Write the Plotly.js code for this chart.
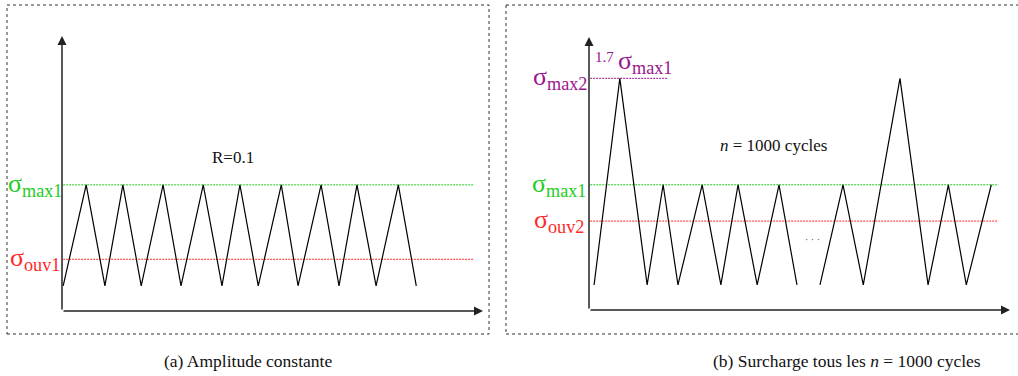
<!DOCTYPE html>
<html>
<head>
<meta charset="utf-8">
<script src="https://cdn.plot.ly/plotly-3.0.1.min.js"></script>
<style>html,body{margin:0;padding:0;background:#fff}#chart{width:1018px;height:376px}</style>
</head>
<body>
<div id="chart"></div>
<script>
// ---- data (stress in units of sigma_max1, time in cycle-like units) ----
const sigmaMax1 = 1.0;
const sigmaOuv1 = 0.41;
const sigmaOuv2 = 0.71;
const sigmaMax2 = 1.85;
const sigmaMin = 0.2;

// (a) constant amplitude
const timeA = [0.03, 0.62, 1.10, 1.56, 2.03, 2.59, 3.05, 3.62, 4.10, 4.56, 5.03, 5.62, 6.05, 6.64, 7.10, 7.56, 8.05, 8.62, 9.08];
const stressA = [0.2, 1.0, 0.2, 1.0, 0.2, 1.0, 0.2, 1.0, 0.2, 1.0, 0.2, 1.0, 0.2, 1.0, 0.2, 1.0, 0.2, 1.0, 0.2];

// (b) overload every n cycles (gap = "...")
const timeB = [0.13, 0.79, 1.49, 1.90, 2.28, 2.90, 3.38, 3.82, 4.31, 4.87, 5.33, null, 5.92, 6.51, 7.03, 7.97, 8.69, 9.21, 9.67, 10.31];
const stressB = [0.2, 1.85, 0.2, 1.0, 0.2, 1.0, 0.2, 1.0, 0.2, 1.0, 0.2, null, 0.2, 1.0, 0.2, 1.85, 0.2, 1.0, 0.2, 1.0];

const levelLineA = [0.03, 10.54];
const levelLineB = [0.03, 10.49];
const levelLineMax2 = [0.03, 2.03];

const captionA = "(a) Amplitude constante";
const captionB = "(b) Surcharge tous les <i>n</i> = 1000 cycles";
const noteA = "R=0.1";
const noteB = "<i>n</i> = 1000 cycles";

const GREEN = "#22cc22", RED = "#ff2a2a", PURPLE = "#99168f";
const FONT = "Liberation Serif, DejaVu Serif, Times New Roman, Times, serif";
const XMAX = 10.79, YMAX = 2.18;

function hline(xs, y, color, xa, ya) {
  return {x: xs, y: [y, y], xaxis: xa, yaxis: ya, mode: "lines", hoverinfo: "skip",
          line: {color: color, width: 1, dash: "2px,1px"}};
}

const traces = [
  hline(levelLineA, sigmaMax1, GREEN, "x", "y"),
  hline(levelLineA, sigmaOuv1, RED, "x", "y"),
  {x: timeA, y: stressA, xaxis: "x", yaxis: "y", mode: "lines", line: {color: "#000", width: 1.2}},
  hline(levelLineMax2, sigmaMax2, PURPLE, "x2", "y2"),
  hline(levelLineB, sigmaMax1, GREEN, "x2", "y2"),
  hline(levelLineB, sigmaOuv2, RED, "x2", "y2"),
  {x: timeB, y: stressB, xaxis: "x2", yaxis: "y2", mode: "lines", connectgaps: false, line: {color: "#000", width: 1.2}}
];

const axX = {range: [0, XMAX], showgrid: false, zeroline: false, showline: false, showticklabels: false, ticks: "", fixedrange: true};
const axY = {range: [0, YMAX], showgrid: false, zeroline: false, showline: false, showticklabels: false, ticks: "", fixedrange: true};

function arrow(xa, ya, x, y, ax, ay) {
  return {xref: xa, yref: ya, axref: xa, ayref: ya, x: x, y: y, ax: ax, ay: ay, text: "",
          showarrow: true, arrowhead: 2, arrowsize: 1.2, arrowwidth: 1.5, arrowcolor: "#222", standoff: 0, startstandoff: 0};
}
function sigLabel(xpx, xa, ya, y, text, color, anchor) {
  return {xref: "paper", yref: ya, x: xpx / 1018, y: y, xanchor: anchor || "right", yanchor: "middle",
          text: text, showarrow: false, font: {family: FONT, size: 26, color: color}};
}

const annotations = [
  arrow("x", "y", XMAX, 0, 0, 0),
  arrow("x", "y", 0, YMAX, 0, 0),
  arrow("x2", "y2", XMAX, 0, 0, 0),
  arrow("x2", "y2", 0, YMAX, 0, 0),
  sigLabel(64, "x", "y", sigmaMax1, "σ<sub>max1</sub>", GREEN),
  sigLabel(62, "x", "y", sigmaOuv1, "σ<sub>ouv1</sub>", RED),
  sigLabel(588, "x2", "y2", sigmaMax1, "σ<sub>max1</sub>", GREEN),
  sigLabel(586, "x2", "y2", sigmaOuv2, "σ<sub>ouv2</sub>", RED),
  sigLabel(589, "x2", "y2", sigmaMax2, "σ<sub>max2</sub>", PURPLE),
  {xref: "paper", yref: "y2", x: 593 / 1018, y: sigmaMax2 + 0.17, xanchor: "left", yanchor: "middle",
   text: "1.7", showarrow: false, font: {family: FONT, size: 15, color: PURPLE}},
  {xref: "paper", yref: "y2", x: 616 / 1018, y: sigmaMax2 + 0.13, xanchor: "left", yanchor: "middle",
   text: "σ<sub>max1</sub>", showarrow: false, font: {family: FONT, size: 26, color: PURPLE}},
  {xref: "x", yref: "y", x: 4.38, y: 1.22, text: noteA, showarrow: false, font: {family: FONT, size: 17, color: "#111"}},
  {xref: "x2", yref: "y2", x: 4.74, y: 1.31, text: noteB, showarrow: false, font: {family: FONT, size: 17, color: "#111"}},
  {xref: "x2", yref: "y2", x: 5.72, y: 0.56, text: "· · ·", showarrow: false, font: {family: FONT, size: 10, color: "#444"}},
  {xref: "paper", yref: "paper", x: 248 / 1018, y: 15 / 376, xanchor: "center", yanchor: "middle",
   text: captionA, showarrow: false, font: {family: FONT, size: 17.5, color: "#111"}},
  {xref: "paper", yref: "paper", x: 847 / 1018, y: 15 / 376, xanchor: "center", yanchor: "middle",
   text: captionB, showarrow: false, font: {family: FONT, size: 17.5, color: "#111"}}
];

function py(p) { return (376 - p) / 376; }
function px(p) { return p / 1018; }
const border = {color: "#333", width: 1, dash: "dot"};
const shapes = [
  {type: "rect", xref: "paper", yref: "paper", x0: px(7), x1: px(489), y0: py(334), y1: py(5), line: border},
  {type: "line", xref: "paper", yref: "paper", x0: px(506), x1: px(1020), y0: py(5), y1: py(5), line: border},
  {type: "line", xref: "paper", yref: "paper", x0: px(506), x1: px(506), y0: py(5), y1: py(334), line: border},
  {type: "line", xref: "paper", yref: "paper", x0: px(506), x1: px(1020), y0: py(334), y1: py(334), line: border}
];

const layout = {
  width: 1018, height: 376, margin: {l: 0, r: 0, t: 0, b: 0},
  font: {family: FONT},
  paper_bgcolor: "#fff", plot_bgcolor: "rgba(0,0,0,0)", showlegend: false,
  xaxis: Object.assign({domain: [62 / 1018, 483 / 1018], anchor: "y"}, axX),
  yaxis: Object.assign({domain: [65 / 376, 340 / 376], anchor: "x"}, axY),
  xaxis2: Object.assign({domain: [589 / 1018, 1010 / 1018], anchor: "y2"}, axX),
  yaxis2: Object.assign({domain: [66 / 376, 339 / 376], anchor: "x2"}, axY),
  annotations: annotations, shapes: shapes
};

Plotly.newPlot("chart", traces, layout, {staticPlot: true, displayModeBar: false});
</script>
</body>
</html>
